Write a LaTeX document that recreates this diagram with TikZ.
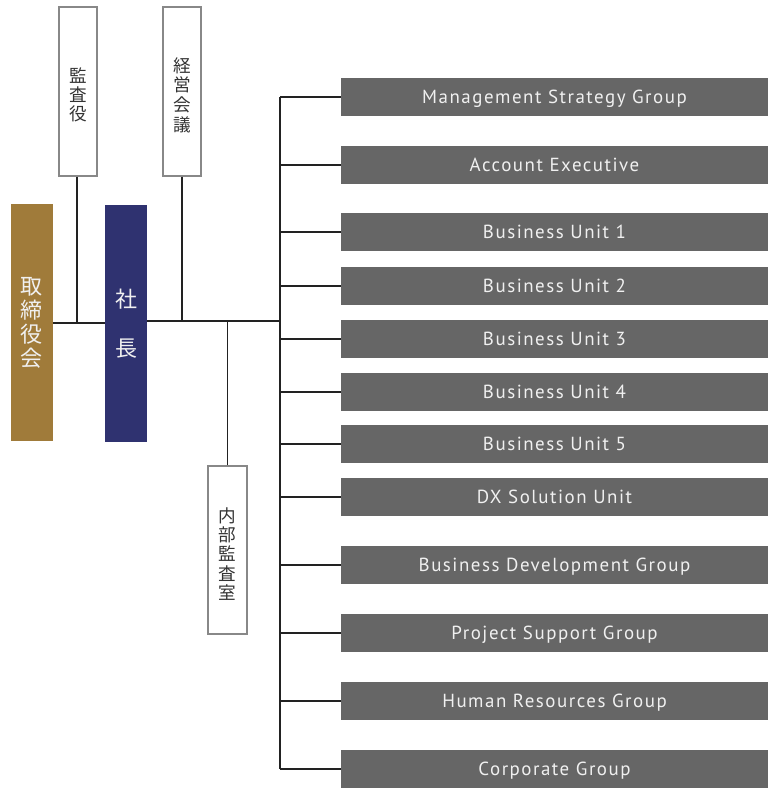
\documentclass[tikz,border=0pt]{standalone}
\usepackage{fontspec}
\setmainfont{PT Sans}
\newfontfamily\enfont[LetterSpace=8]{PT Sans}
\newfontfamily\jafont{Noto Sans CJK JP}
\definecolor{gold}{HTML}{A07B3A}
\definecolor{navy}{HTML}{2F3270}
\definecolor{boxgray}{HTML}{666666}
\definecolor{linec}{HTML}{222222}
\definecolor{outl}{HTML}{888888}
\definecolor{jtext}{HTML}{333333}
\begin{document}
\begin{tikzpicture}[x=0.75pt,y=-0.75pt,
  unitbox/.style={fill=boxgray,draw=none,minimum width=320.25pt,minimum height=28.5pt,inner sep=0pt,
     text=white!94!black,font=\enfont\fontsize{14.2pt}{16pt}\selectfont},
  outbox/.style={draw=outl,line width=0.8pt,fill=white,inner sep=0pt,text=jtext,
     font=\jafont\fontsize{13.2pt}{14.3pt}\selectfont,align=center},
  solidbox/.style={draw=none,inner sep=0pt,text=white!94!black,align=center,
     minimum width=31.5pt,minimum height=177.75pt},
  conn/.style={draw=linec,line width=0.8pt}]
\useasboundingbox (0,0) rectangle (773,788);
% top outline boxes
\node[outbox,minimum width=28.5pt,minimum height=126.75pt] (kansa) at (78,91.5) {};
\node[text=jtext,font=\jafont\fontsize{13.2pt}{14.3pt}\selectfont,align=center] at (78,95) {監\\査\\役};
\node[outbox,minimum width=28.5pt,minimum height=126.75pt] (keiei) at (182,91.5) {};
\node[text=jtext,font=\jafont\fontsize{13.2pt}{14.8pt}\selectfont,align=center] at (182,95) {経\\営\\会\\議};
% board & president
\node[solidbox,fill=gold,font=\jafont\fontsize{16.5pt}{18pt}\selectfont] (tori) at (32,322.5) {取\\締\\役\\会};
\node[solidbox,fill=navy,font=\jafont\fontsize{16.5pt}{36.5pt}\selectfont,minimum height=177.75pt] (shacho) at (126,323.5) {社\\長};
% internal audit
\node[outbox,minimum width=29.25pt,minimum height=126pt] (naibu) at (227.5,550) {};
\node[text=jtext,font=\jafont\fontsize{13.2pt}{14.3pt}\selectfont,align=center] at (227.5,554) {内\\部\\監\\査\\室};
% right units
\begin{scope}[every node/.append style={text depth=0pt}]
\node[unitbox] (u1) at (554.5,97) {Management Strategy Group};
\node[unitbox] (u2) at (554.5,165) {Account Executive};
\node[unitbox] (u3) at (554.5,232) {Business Unit 1};
\node[unitbox] (u4) at (554.5,286) {Business Unit 2};
\node[unitbox] (u5) at (554.5,339) {Business Unit 3};
\node[unitbox] (u6) at (554.5,392) {Business Unit 4};
\node[unitbox] (u7) at (554.5,444) {Business Unit 5};
\node[unitbox] (u8) at (554.5,497) {DX Solution Unit};
\node[unitbox] (u9) at (554.5,565) {Business Development Group};
\node[unitbox] (u10) at (554.5,633) {Project Support Group};
\node[unitbox] (u11) at (554.5,701) {Human Resources Group};
\node[unitbox] (u12) at (554.5,769) {Corporate Group};
\end{scope}
% junctions
\coordinate (j) at (280,321);
\coordinate (b) at (77,323);
% connectors
\draw[conn] (tori.east |- b) -- (shacho.west |- b);
\draw[conn] (kansa.south -| b) -- (b);
\draw[conn] (shacho.east |- j) -- (j);
\draw[conn] (keiei.south) -- (keiei.south |- j);
\draw[conn] (naibu.north) -- (naibu.north |- j);
\draw[conn] (j |- u1.west) -- (j |- u12.west);
\foreach \i in {1,...,12}{\draw[conn] (u\i.west) -- (u\i.west -| j);}
\end{tikzpicture}
\end{document}
